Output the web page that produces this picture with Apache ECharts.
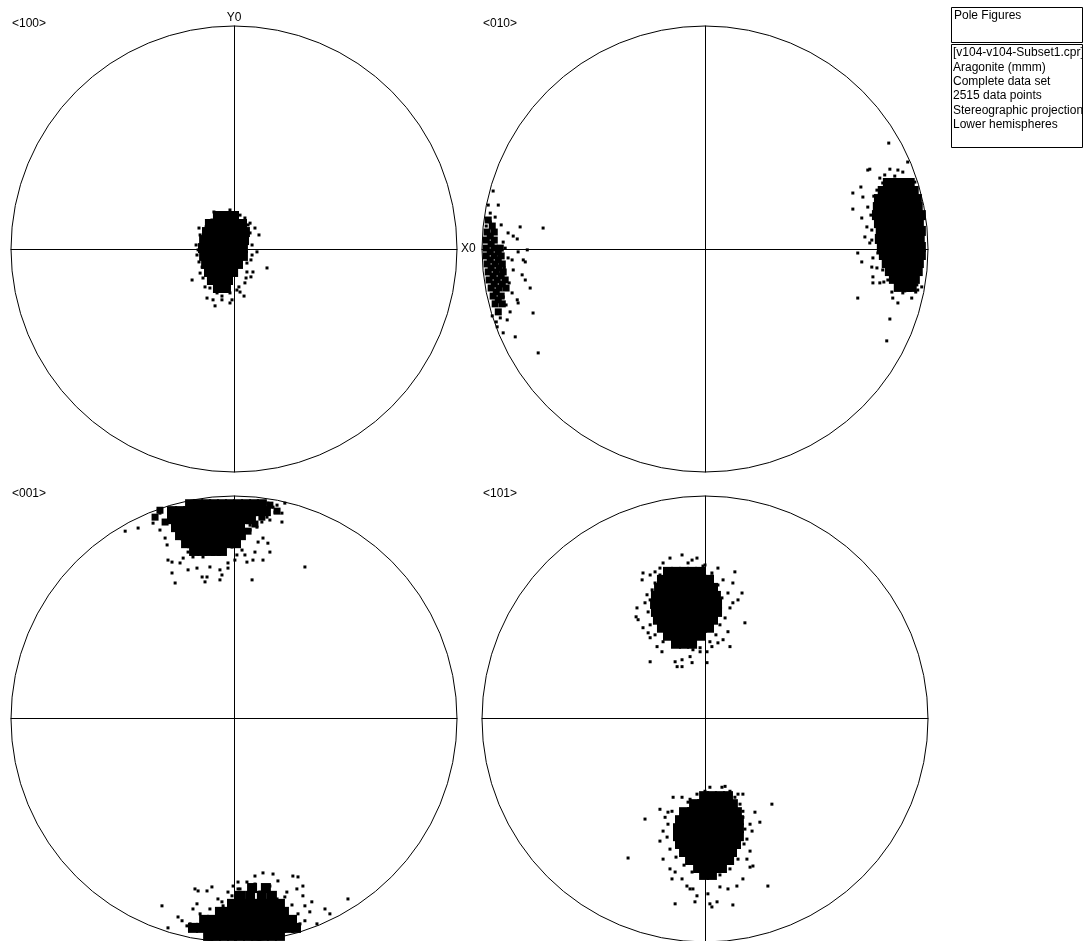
<!DOCTYPE html>
<html>
<head>
<meta charset="utf-8">
<script src="https://cdn.jsdelivr.net/npm/echarts@6/dist/echarts.min.js"></script>
<style>html,body{margin:0;padding:0;background:#fff}#c{width:1088px;height:941px}</style>
</head>
<body>
<div id="c"></div>
<script>
// Pole figure coordinates in percent of the projection radius (x to the right, y up)
const panelTitles = ['<100>', '<010>', '<001>', '<101>'];
const axisNames = ['X0', 'Y0'];
const infoTitle = 'Pole Figures';
const infoLines = ['[v104-v104-Subset1.cpr]', 'Aragonite (mmm)', 'Complete data set', '2515 data points', 'Stereographic projection', 'Lower hemispheres'];

// <100>
const core100 = [
 [-7.2,14.8],[-3.6,14.8],[0,14.8],
 [-10.8,11.2],[-7.2,11.2],[-3.6,11.2],[0,11.2],[3.6,11.2],
 [-12.1,7.6],[-8.5,7.6],[-4.9,7.6],[-1.3,7.6],[2.2,7.6],[4.9,7.6],
 [-13.4,4.0],[-9.9,4.0],[-6.3,4.0],[-2.7,4.0],[0.9,4.0],[4.5,4.0],
 [-13.9,0.4],[-10.3,0.4],[-6.7,0.4],[-3.1,0.4],[0.4,0.4],[4.0,0.4],
 [-13.4,-3.1],[-9.9,-3.1],[-6.3,-3.1],[-2.7,-3.1],[0.9,-3.1],[4.0,-3.1],
 [-12.5,-6.7],[-9.0,-6.7],[-5.4,-6.7],[-1.8,-6.7],[1.8,-6.7],
 [-11.2,-10.3],[-7.6,-10.3],[-4.0,-10.3],[-0.4,-10.3],
 [-9.9,-13.9],[-6.3,-13.9],[-2.7,-13.9],
 [-7.2,-17.5],[-3.6,-17.5]
];
const mid100 = [];
const pts100 = [
 [-15.7,9.4],[-14.3,4.9],[-13.0,5.4],[7.2,11.6],[9.4,9.4],[11.2,6.3],[7.2,7.2],[14.8,-8.5],
 [8.5,-10.3],[7.6,-12.5],[4.9,-15.2],[4.5,-21.1],[-18.8,-13.9],[-15.2,-10.8],[-13.0,-17.0],
 [-12.1,-22.0],[-9.4,-22.8],[-8.5,-25.5],[-5.4,-22.8],[-1.8,-24.2],[-1.8,-19.7],[2.2,-17.0],
 [-17.0,1.8],[2.7,15.2],[1.3,16.1],[-4.9,15.2],[-9.9,13.0],[-16.6,-2.7],[-14.3,-8.1],
 [4.9,2.7],[10.3,-1.3],[8.1,-2.7],[5.8,-6.3],[5.8,-10.3],[-13.9,-13.0],[-10.8,-17.5],
 [-7.6,-19.7],[1.3,-18.4],[-0.9,-22.8],
 [-15.2,6.3],[-16.1,-0.4],[-15.7,-5.8],[6.3,10.8],[8.1,1.8],[7.6,-4.9],[5.4,-13.0],
 [2.7,-19.3],[-5.4,-21.1],[-10.8,-15.2],[-12.5,9.9],[-9.0,16.6],[-1.8,17.5],[4.9,13.9]
];

// <010>
const core010 = [
 [82.0,29.6],[85.6,29.6],[89.2,29.6],[91.8,29.6],
 [79.7,26.0],[83.3,26.0],[86.9,26.0],[90.5,26.0],[93.6,26.0],
 [78.0,22.4],[81.5,22.4],[85.1,22.4],[88.7,22.4],[92.3,22.4],[95.0,22.4],
 [77.5,18.8],[81.1,18.8],[84.7,18.8],[88.3,18.8],[91.8,18.8],[95.4,18.8],
 [77.1,15.2],[80.6,15.2],[84.2,15.2],[87.8,15.2],[91.4,15.2],[95.0,15.2],[96.8,15.2],
 [78.0,11.6],[81.5,11.6],[85.1,11.6],[88.7,11.6],[92.3,11.6],[95.9,11.6],
 [78.8,8.1],[82.4,8.1],[86.0,8.1],[89.6,8.1],[93.2,8.1],[96.8,8.1],
 [78.4,4.5],[82.0,4.5],[85.6,4.5],[89.2,4.5],[92.7,4.5],[96.3,4.5],
 [79.3,0.9],[82.9,0.9],[86.5,0.9],[90.0,0.9],[93.6,0.9],[96.8,0.9],
 [80.2,-2.7],[83.8,-2.7],[87.4,-2.7],[90.9,-2.7],[94.5,-2.7],[96.8,-2.7],
 [81.5,-6.3],[85.1,-6.3],[88.7,-6.3],[92.3,-6.3],[95.9,-6.3],
 [82.9,-9.9],[86.5,-9.9],[90.0,-9.9],[93.6,-9.9],[95.4,-9.9],
 [84.7,-13.4],[88.3,-13.4],[91.8,-13.4],[94.1,-13.4],
 [86.9,-17.0],[90.5,-17.0],[92.7,-17.0]
];
const mid010 = [
 [-97.7,7.6],[-94.5,7.6],[-98.1,4.0],[-94.5,4.0],[-98.1,0.4],[-94.5,0.4],[-91.8,0.4],
 [-98.1,-3.1],[-94.5,-3.1],[-91.4,-3.1],[-97.7,-6.7],[-94.1,-6.7],[-90.9,-6.7],
 [-97.2,-10.3],[-93.6,-10.3],[-90.5,-10.3],[-96.8,-13.9],[-93.2,-13.9],[-89.6,-13.9],
 [-95.9,-17.5],[-92.3,-17.5],[-89.2,-17.5],[-95.0,-21.1],[-91.4,-21.1],[-94.1,-24.6],
 [-90.9,-24.6],[-92.7,-28.2],
 [-96.3,5.8],[-95.9,2.2],[-96.3,-1.3],[-92.7,-1.3],[-96.3,-4.9],[-92.7,-4.9],[-95.9,-8.5],
 [-92.3,-8.5],[-95.0,-12.1],[-91.4,-12.1],[-94.5,-15.7],[-90.9,-15.7],[-93.6,-19.3],
 [-92.7,-22.8],[-97.2,13.0],[-95.4,10.3]
];
const pts010 = [
 [82.4,47.5],[73.9,35.8],[73.0,35.4],[82.9,35.8],[69.9,27.8],[66.3,25.1],[70.8,23.3],[66.3,17.9],
 [70.3,13.9],[72.6,9.9],[71.7,5.4],[73.9,2.7],[68.5,-1.8],[70.3,-5.8],[74.8,-8.1],[75.3,-12.5],
 [75.3,-15.2],[78.4,-15.2],[68.5,-22.0],[84.2,-22.0],[86.5,-24.2],[88.7,-19.7],[92.7,-22.0],
 [95.4,-18.4],[82.9,-31.4],[81.5,-41.2],[90.9,39.0],[86.5,35.4],[88.7,34.5],[90.5,30.9],
 [79.7,29.6],[77.1,26.4],[73.0,18.8],[74.8,4.0],[77.5,-1.8],[79.7,-9.4],[82.0,-13.9],
 [86.0,-17.0],[95.0,-16.1],[97.2,-17.0],
 [78.4,31.8],[75.7,23.7],[74.4,15.2],[74.8,8.5],[75.3,-4.0],[77.1,-8.5],[80.2,-14.8],
 [83.8,-19.3],[89.6,-18.8],[94.5,-19.3],[94.1,30.0],[85.1,32.7],[80.6,33.2],
 [-95.0,26.0],[-97.2,19.7],[-92.7,19.7],[-96.3,16.1],[-94.1,14.3],[-91.4,10.8],[-82.9,9.9],
 [-72.6,9.4],[-88.3,7.2],[-86.0,5.8],[-84.2,4.5],[-90.5,3.1],[-79.7,-0.4],[-83.8,-1.3],
 [-86.5,-4.9],[-81.5,-4.9],[-80.6,-5.8],[-86.0,-9.4],[-82.0,-11.6],[-80.6,-13.9],[-78.4,-17.5],
 [-84.2,-22.8],[-83.8,-24.2],[-77.1,-28.7],[-88.7,-31.8],[-90.5,-37.6],[-85.1,-39.4],
 [-74.8,-46.6],[-93.2,-34.9],[-87.4,-28.2],[-86.5,-19.7],
 [-89.6,0.4],[-88.3,-4.0],[-90.0,-8.5],[-87.8,-15.2],[-90.5,-21.5],[-89.2,-25.1],
 [-91.8,-30.9],[-93.6,-32.7],[-95.4,-30.0],[-96.3,12.1],[-98.1,10.3]
];

// <001>
const core001 = [
 [-19.7,96.3],[-16.1,96.3],[-12.5,96.3],[-9.0,96.3],[-5.4,96.3],[-1.8,96.3],[1.8,96.3],[5.4,96.3],[9.0,96.3],[12.5,96.3],
 [-27.8,93.2],[-24.2,93.2],[-20.6,93.2],[-17.0,93.2],[-13.4,93.2],[-9.9,93.2],[-6.3,93.2],[-2.7,93.2],[0.9,93.2],[4.5,93.2],[8.1,93.2],[11.6,93.2],[14.3,93.2],
 [-27.8,89.6],[-24.2,89.6],[-20.6,89.6],[-17.0,89.6],[-13.4,89.6],[-9.9,89.6],[-6.3,89.6],[-2.7,89.6],[0.9,89.6],[4.5,89.6],[7.6,89.6],
 [-26.0,86.0],[-22.4,86.0],[-18.8,86.0],[-15.2,86.0],[-11.6,86.0],[-8.1,86.0],[-4.5,86.0],[-0.9,86.0],[2.7,86.0],
 [-24.2,82.4],[-19.7,82.4],[-15.2,82.4],[-10.8,82.4],[-5.4,82.4],[0,82.4],
 [-22.0,82.4],[-17.5,82.4],[-13.0,82.4],[-8.1,82.4],[-2.7,82.4],[3.1,82.4],
 [-21.5,78.8],[-16.1,78.8],[-9.9,78.8],[-2.7,78.8],
 [-18.8,78.8],[-13.0,78.8],[-6.3,78.8],[0.9,78.8],
 [-17.9,75.3],[-10.8,75.3],[-5.4,75.3],[-14.3,75.3],[-8.1,75.3],
 [-11.6,-97.7],[-8.1,-97.7],[-4.5,-97.7],[-0.9,-97.7],[2.7,-97.7],[6.3,-97.7],[9.9,-97.7],[13.4,-97.7],[17.0,-97.7],[20.6,-97.7],
 [-18.4,-94.1],[-14.8,-94.1],[-11.2,-94.1],[-7.6,-94.1],[-4.0,-94.1],[-0.4,-94.1],[3.1,-94.1],[6.7,-94.1],[10.3,-94.1],[13.9,-94.1],[17.5,-94.1],[21.1,-94.1],[24.6,-94.1],[27.8,-94.1],
 [-13.4,-90.5],[-9.9,-90.5],[-6.3,-90.5],[-2.7,-90.5],[0.9,-90.5],[4.5,-90.5],[8.1,-90.5],[11.6,-90.5],[15.2,-90.5],[18.8,-90.5],[22.4,-90.5],[26.0,-90.5],
 [-6.3,-86.9],[-2.7,-86.9],[0.9,-86.9],[4.5,-86.9],[8.1,-86.9],[11.6,-86.9],[15.2,-86.9],[18.8,-86.9],[22.4,-86.9],
 [-0.9,-83.3],[2.7,-83.3],[6.3,-83.3],[9.9,-83.3],[13.4,-83.3],[17.0,-83.3],[20.6,-83.3],
 [2.7,-79.7],[7.2,-79.7],[12.5,-79.7],[17.0,-79.7],
 [8.1,-76.2],[14.3,-76.2]
];
const mid001 = [
 [16.1,95.9],[19.3,93.2],[12.5,90.5],[9.4,87.4],[6.3,84.2],[-33.2,93.6],[-35.4,90.5],[-30.9,88.3]
];
const pts001 = [
 [-48.8,84.2],[-43.0,85.6],[-36.3,87.8],[-33.2,84.7],[-30.9,81.1],[-30.0,78.0],[-29.6,71.2],[-27.8,70.3],
 [-27.8,65.4],[-26.4,60.9],[-24.2,69.9],[-20.6,66.8],[-16.6,67.6],[-14.3,63.6],[-12.1,63.6],[-13.0,61.4],
 [-10.8,68.1],[-6.3,66.8],[-5.4,64.5],[-6.3,62.3],[-2.7,69.9],[-2.7,67.6],[0.4,71.2],[5.8,70.3],
 [8.5,71.2],[9.4,74.8],[13.0,71.2],[16.1,74.8],[15.2,78.8],[13.0,81.1],[10.8,79.3],[21.5,92.3],
 [21.5,88.3],[19.3,95.9],[14.8,90.5],[16.1,89.2],[31.8,68.1],[8.1,62.3],[4.9,73.5],[3.6,75.7],
 [1.3,73.5],[-10.8,74.8],[-13.9,72.6],[-18.4,72.6],[-20.6,74.8],[-22.8,72.1],[-15.2,78.0],[-7.6,76.6],
 [-0.9,77.1],[-4.0,81.5],[2.7,83.3],[7.2,84.7],[10.3,86.0],[5.8,89.2],[12.5,92.3],[17.5,95.0],
 [-25.1,86.9],[-22.0,83.3],[-17.5,80.2],[-13.0,80.2],[-8.5,78.0],[-1.8,80.2],[4.0,81.1],[7.2,86.9],
 [12.5,88.3],[18.4,92.7],[-33.2,92.3],[-27.8,89.2],[15.2,96.8],[22.8,96.8],
 [-32.3,-84.2],[-29.6,-94.1],[-25.1,-89.2],[-23.3,-90.9],[-18.4,-85.6],[-16.6,-83.3],[-18.8,-94.5],
 [-17.5,-76.6],[-16.1,-77.5],[-12.1,-77.5],[-9.9,-75.7],[-7.2,-81.1],[-4.9,-84.2],[-2.7,-78.0],
 [1.8,-73.5],[2.7,-76.6],[5.8,-73.5],[9.4,-70.8],[13.0,-69.4],[17.5,-69.9],[19.7,-73.0],[26.4,-70.8],
 [28.7,-71.2],[30.9,-75.3],[30.9,-79.7],[34.9,-82.4],[31.8,-84.2],[34.0,-86.9],[31.8,-90.9],
 [40.8,-85.6],[43.0,-87.8],[51.1,-81.1],[37.2,-92.3],[28.2,-76.6],[23.7,-78.0],[16.1,-75.3],
 [19.3,-81.1],[11.6,-78.0],[7.2,-81.1],[-0.4,-75.3],[-14.3,-90.9],[-21.1,-93.2],
 [-15.2,-87.8],[-10.8,-85.6],[-5.4,-82.4],[-0.9,-79.7],[1.8,-76.6],[9.4,-74.4],[15.2,-76.6],
 [22.8,-80.2],[26.0,-83.8],[28.7,-87.8],[29.6,-92.3],[-19.7,-92.3],[-13.0,-93.6]
];

// <101>
const core101 = [
 [-16.6,65.9],[-13.0,65.9],[-9.4,65.9],[-5.8,65.9],[-2.2,65.9],
 [-19.3,62.3],[-15.7,62.3],[-12.1,62.3],[-8.5,62.3],[-4.9,62.3],[-1.3,62.3],[1.8,62.3],
 [-20.6,58.7],[-17.0,58.7],[-13.4,58.7],[-9.9,58.7],[-6.3,58.7],[-2.7,58.7],[0.9,58.7],[3.6,58.7],
 [-22.0,55.1],[-18.4,55.1],[-14.8,55.1],[-11.2,55.1],[-7.6,55.1],[-4.0,55.1],[-0.4,55.1],[3.1,55.1],[4.9,55.1],
 [-22.4,51.5],[-18.8,51.5],[-15.2,51.5],[-11.6,51.5],[-8.1,51.5],[-4.5,51.5],[-0.9,51.5],[2.7,51.5],[5.4,51.5],
 [-22.0,47.9],[-18.4,47.9],[-14.8,47.9],[-11.2,47.9],[-7.6,47.9],[-4.0,47.9],[-0.4,47.9],[3.1,47.9],[5.4,47.9],
 [-21.1,44.4],[-17.5,44.4],[-13.9,44.4],[-10.3,44.4],[-6.7,44.4],[-3.1,44.4],[0.4,44.4],[3.6,44.4],
 [-19.3,40.8],[-15.7,40.8],[-12.1,40.8],[-8.5,40.8],[-4.9,40.8],[-1.3,40.8],[1.8,40.8],
 [-16.6,37.2],[-13.0,37.2],[-9.4,37.2],[-5.8,37.2],[-2.2,37.2],
 [-13.0,33.6],[-9.4,33.6],[-5.8,33.6],
 [-0.4,-34.9],[3.1,-34.9],[6.7,-34.9],[10.3,-34.9],
 [-4.9,-38.5],[-1.3,-38.5],[2.2,-38.5],[5.8,-38.5],[9.4,-38.5],[12.5,-38.5],
 [-9.4,-42.1],[-5.8,-42.1],[-2.2,-42.1],[1.3,-42.1],[4.9,-42.1],[8.5,-42.1],[12.1,-42.1],[14.3,-42.1],
 [-11.2,-45.7],[-7.6,-45.7],[-4.0,-45.7],[-0.4,-45.7],[3.1,-45.7],[6.7,-45.7],[10.3,-45.7],[13.9,-45.7],[15.2,-45.7],
 [-12.1,-49.3],[-8.5,-49.3],[-4.9,-49.3],[-1.3,-49.3],[2.2,-49.3],[5.8,-49.3],[9.4,-49.3],[13.0,-49.3],[15.2,-49.3],
 [-12.1,-52.9],[-8.5,-52.9],[-4.9,-52.9],[-1.3,-52.9],[2.2,-52.9],[5.8,-52.9],[9.4,-52.9],[13.0,-52.9],[15.2,-52.9],
 [-11.2,-56.4],[-7.6,-56.4],[-4.0,-56.4],[-0.4,-56.4],[3.1,-56.4],[6.7,-56.4],[10.3,-56.4],[13.9,-56.4],
 [-9.4,-60.0],[-5.8,-60.0],[-2.2,-60.0],[1.3,-60.0],[4.9,-60.0],[8.5,-60.0],[12.1,-60.0],
 [-6.7,-63.6],[-3.1,-63.6],[0.4,-63.6],[4.0,-63.6],[7.6,-63.6],[10.8,-63.6],
 [-3.1,-67.2],[0.4,-67.2],[4.0,-67.2],[7.6,-67.2],
 [-0.4,-70.3],[3.1,-70.3]
];
const mid101 = [];
const pts101 = [
 [-10.3,73.5],[-15.7,72.1],[-5.8,71.2],[-3.6,72.1],[-7.6,69.9],[-18.8,69.9],[-27.8,65.4],[-24.6,64.5],
 [-28.2,62.3],[-22.4,65.9],[0,69.0],[5.8,67.6],[13.4,65.9],[3.1,65.4],[8.1,62.3],[12.5,60.9],
 [10.3,56.4],[16.6,56.4],[14.8,53.3],[12.5,52.0],[11.2,49.7],[17.9,43.0],[9.0,45.2],[10.3,39.0],
 [8.1,35.4],[11.2,32.3],[5.8,34.0],[3.1,32.3],[0.9,30.0],[-2.2,30.0],[-5.4,30.9],[-6.7,27.8],
 [-10.3,26.4],[-13.4,25.5],[-12.5,23.3],[-10.3,23.3],[-5.8,25.1],[0.9,25.1],[-24.6,25.5],[-19.3,30.0],
 [-21.5,32.3],[-24.6,36.3],[-25.5,38.5],[-27.8,40.8],[-30.0,44.4],[-30.9,45.7],[-30.5,49.7],
 [-26.9,52.0],[-26.0,55.6],[-23.7,57.8],[-22.4,60.9],
 [-20.2,64.5],[-24.6,53.3],[-25.5,47.9],[-24.6,42.1],[-22.4,37.6],[-18.8,34.5],[-2.2,31.8],
 [2.2,34.5],[4.9,37.6],[6.7,42.1],[7.6,54.2],[5.8,60.0],[3.1,64.1],[-20.2,67.6],[-0.9,68.5],
 [-26.9,-45.2],[-34.5,-62.7],[-20.2,-40.8],[-16.6,-42.1],[-17.9,-44.4],[-14.3,-35.4],[-10.3,-35.4],
 [-6.7,-36.3],[-18.8,-50.6],[-20.2,-55.1],[-18.8,-63.2],[-15.7,-67.6],[-13.4,-69.0],[-14.8,-72.1],
 [-10.3,-72.1],[-8.1,-75.3],[-6.7,-76.6],[-3.6,-79.7],[-5.4,-76.6],[-13.4,-83.3],[-4.5,-82.4],
 [2.2,-83.3],[3.1,-84.7],[5.4,-82.4],[12.5,-83.8],[1.3,-78.8],[6.7,-75.7],[10.3,-76.6],[14.3,-75.3],
 [17.0,-72.1],[20.2,-66.8],[21.5,-66.3],[18.8,-63.2],[20.2,-59.6],[18.8,-54.2],[21.1,-50.6],
 [20.2,-47.5],[24.6,-46.6],[22.4,-42.1],[17.0,-41.7],[17.0,-34.0],[30.0,-38.5],[28.2,-75.3],
 [9.0,-30.5],[7.6,-30.9],[11.2,-32.7],[14.8,-34.0],[0,-32.7],[2.2,-30.9],
 [-14.8,-41.7],[-16.6,-47.5],[-17.0,-53.3],[-15.7,-58.7],[-13.0,-62.3],[-9.4,-65.9],[-5.8,-69.0],
 [6.7,-70.3],[11.2,-67.6],[14.8,-63.2],[17.5,-56.4],[17.9,-49.7],[17.0,-44.4],[15.7,-38.5],
 [13.4,-35.4],[-3.6,-34.0],[-7.6,-37.6]
];

const coreSets = [core100, core010, core001, core101];
const midSets = [mid100, mid010, mid001, mid101];
const pointSets = [pts100, pts010, pts001, pts101];

const FONT = '"Liberation Sans", Arial, sans-serif';
const R = 223;
const origins = [[11, 26], [482, 26], [11, 496], [482, 496]];

const chart = echarts.init(document.getElementById('c'), null, {renderer: 'canvas'});

const grids = [], xAxes = [], yAxes = [], polars = [], angleAxes = [], radiusAxes = [], series = [], titles = [];
function dots(i, data, size) {
  return {type: 'scatter', xAxisIndex: i, yAxisIndex: i, data: data, symbol: 'rect', symbolSize: size,
    itemStyle: {color: '#000', opacity: 1, borderWidth: 0}, emphasis: {disabled: true}, silent: true, animation: false};
}
origins.forEach(function (o, i) {
  grids.push({left: o[0], top: o[1], width: 2 * R, height: 2 * R});
  polars.push({center: [o[0] + R, o[1] + R], radius: R});
  const axisBase = {
    gridIndex: i, type: 'value', min: -100, max: 100,
    axisLine: {show: true, onZero: true, lineStyle: {color: '#000', width: 1}},
    axisTick: {show: false}, axisLabel: {show: false}, splitLine: {show: false},
    nameTextStyle: {color: '#000', fontSize: 12, fontFamily: FONT}
  };
  xAxes.push(Object.assign({}, axisBase, {name: i === 0 ? axisNames[0] : '', nameLocation: 'end', nameGap: 4}));
  yAxes.push(Object.assign({}, axisBase, {name: i === 0 ? axisNames[1] : '', nameLocation: 'end', nameGap: 2}));
  angleAxes.push({polarIndex: i, type: 'value', min: 0, max: 360,
    axisLine: {show: true, lineStyle: {color: '#000', width: 1}},
    axisTick: {show: false}, axisLabel: {show: false}, splitLine: {show: false}, splitArea: {show: false}});
  radiusAxes.push({polarIndex: i, type: 'value', min: 0, max: 1, show: false});
  series.push(dots(i, coreSets[i], 10));
  series.push(dots(i, midSets[i], 7));
  series.push(dots(i, pointSets[i], 3));
  titles.push({text: panelTitles[i], left: o[0] + 1, top: o[1] - 8, padding: 0,
    textStyle: {fontSize: 12, fontWeight: 'normal', color: '#000', fontFamily: FONT}});
});

const graphic = [
  {type: 'rect', shape: {x: 951.5, y: 7.5, width: 131, height: 35}, style: {fill: '#fff', stroke: '#000', lineWidth: 1}},
  {type: 'text', x: 954, y: 16, style: {text: infoTitle, fill: '#000', font: '12px ' + FONT, textVerticalAlign: 'middle'}},
  {type: 'rect', shape: {x: 951.5, y: 44.5, width: 131, height: 103}, style: {fill: '#fff', stroke: '#000', lineWidth: 1}}
];
infoLines.forEach(function (t, k) {
  graphic.push({type: 'text', x: 953, y: 53 + k * 14.3, style: {text: t, fill: '#000', font: '12px ' + FONT, textVerticalAlign: 'middle'}});
});

chart.setOption({
  backgroundColor: '#fff',
  animation: false,
  title: titles,
  grid: grids,
  xAxis: xAxes,
  yAxis: yAxes,
  polar: polars,
  angleAxis: angleAxes,
  radiusAxis: radiusAxes,
  series: series,
  graphic: graphic
});
</script>
</body>
</html>
